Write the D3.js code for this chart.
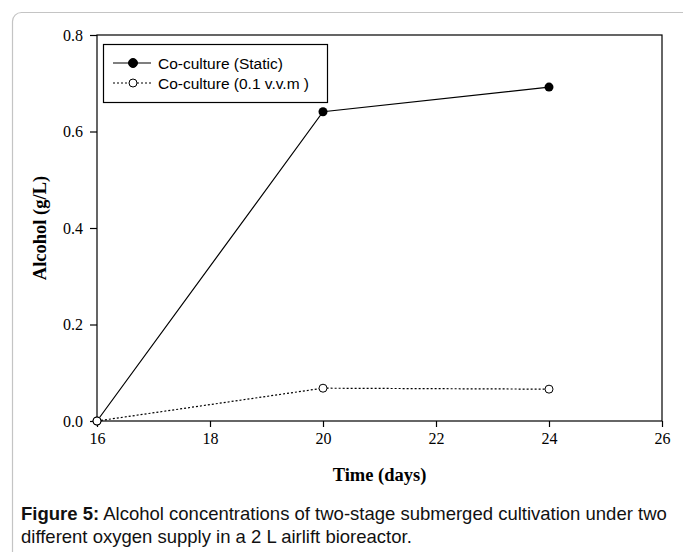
<!DOCTYPE html>
<html>
<head>
<meta charset="utf-8">
<script src="https://cdn.jsdelivr.net/npm/d3@7"></script>
<style>
  body { margin: 0; background: #fff; }
  svg { display: block; }
</style>
</head>
<body>
<div id="chart"></div>
<script>
// data
const days = [16, 20, 24];
const staticAlcohol = [0, 0.641, 0.692];
const aeratedAlcohol = [0, 0.068, 0.066];
const seriesNames = ["Co-culture (Static)", "Co-culture (0.1 v.v.m )"];
const xTicks = [16, 18, 20, 22, 24, 26];
const yTicks = [0, 0.2, 0.4, 0.6, 0.8];

const width = 683, height = 552;
const margin = { top: 35, right: 21, bottom: 131, left: 97 };
const serif = "'Liberation Serif', 'Times New Roman', serif";
const sans = "'Liberation Sans', Arial, sans-serif";

const svg = d3.select("#chart").append("svg")
    .attr("width", width)
    .attr("height", height);

// figure frame
svg.append("rect")
    .attr("x", 12.5).attr("y", 12.5)
    .attr("width", 720).attr("height", 620)
    .attr("rx", 9)
    .attr("fill", "none")
    .attr("stroke", "#c4c4c4")
    .attr("stroke-width", 1.2);

const x = d3.scaleLinear().domain([16, 26]).range([margin.left, width - margin.right]);
const y = d3.scaleLinear().domain([0, 0.8]).range([height - margin.bottom, margin.top]);

// plot box
svg.append("rect")
    .attr("x", x(16)).attr("y", y(0.8))
    .attr("width", x(26) - x(16)).attr("height", y(0) - y(0.8))
    .attr("fill", "none").attr("stroke", "#000").attr("stroke-width", 1.2);

const xAxis = svg.append("g")
    .attr("transform", `translate(0,${y(0)})`)
    .call(d3.axisBottom(x).tickValues(xTicks).tickSize(6).tickPadding(6).tickFormat(d3.format("d")));
const yAxis = svg.append("g")
    .attr("transform", `translate(${x(16)},0)`)
    .call(d3.axisLeft(y).tickValues(yTicks).tickSize(7).tickPadding(7).tickFormat(d3.format(".1f")));

[xAxis, yAxis].forEach(a => {
  a.select(".domain").remove();
  a.selectAll("line").attr("stroke", "#000").attr("stroke-width", 1.2);
  a.selectAll("text")
    .attr("font-family", serif)
    .attr("font-size", 16).attr("fill", "#000");
});

// axis titles
svg.append("text")
    .attr("x", (x(16) + x(26)) / 2).attr("y", 481)
    .attr("text-anchor", "middle")
    .attr("font-family", serif)
    .attr("font-weight", "bold").attr("font-size", 18.5)
    .text("Time (days)");
svg.append("text")
    .attr("transform", `translate(46,${(y(0) + y(0.8)) / 2}) rotate(-90)`)
    .attr("text-anchor", "middle")
    .attr("font-family", serif)
    .attr("font-weight", "bold").attr("font-size", 18.5)
    .text("Alcohol (g/L)");

const line = d3.line().x((d, i) => x(days[i])).y(d => y(d));

// static series
svg.append("path").datum(staticAlcohol)
    .attr("d", line).attr("fill", "none")
    .attr("stroke", "#000").attr("stroke-width", 1.2);
// aerated series
svg.append("path").datum(aeratedAlcohol)
    .attr("d", line).attr("fill", "none")
    .attr("stroke", "#000").attr("stroke-width", 1.2)
    .attr("stroke-dasharray", "2,2");

svg.append("g").selectAll("circle").data(staticAlcohol).join("circle")
    .attr("cx", (d, i) => x(days[i])).attr("cy", d => y(d))
    .attr("r", 4.5).attr("fill", "#000");
svg.append("g").selectAll("circle").data(aeratedAlcohol).join("circle")
    .attr("cx", (d, i) => x(days[i])).attr("cy", d => y(d))
    .attr("r", 4).attr("fill", "#fff").attr("stroke", "#000").attr("stroke-width", 1);

// legend
const legend = svg.append("g");
legend.append("rect")
    .attr("x", 103.5).attr("y", 44.5).attr("width", 224).attr("height", 58)
    .attr("fill", "#fff").attr("stroke", "#000").attr("stroke-width", 1.2);
seriesNames.forEach((name, i) => {
  const ly = 63 + i * 20;
  legend.append("line")
      .attr("x1", 113).attr("x2", 151).attr("y1", ly).attr("y2", ly)
      .attr("stroke", "#000").attr("stroke-width", 1.2)
      .attr("stroke-dasharray", i ? "2,2" : null);
  legend.append("circle")
      .attr("cx", 133).attr("cy", ly).attr("r", i ? 4 : 4.5)
      .attr("fill", i ? "#fff" : "#000").attr("stroke", "#000").attr("stroke-width", 1);
  legend.append("text")
      .attr("x", 158).attr("y", ly + 5.5)
      .attr("font-family", sans)
      .attr("font-size", 15.5)
      .text(name);
});

// caption
const caption = svg.append("text")
    .attr("font-family", sans)
    .attr("font-size", 18.5).attr("fill", "#111");
const l1 = caption.append("tspan").attr("x", 21).attr("y", 520);
l1.append("tspan").attr("font-weight", "bold").text("Figure 5:");
l1.append("tspan").text(" Alcohol concentrations of two-stage submerged cultivation under two");
caption.append("tspan").attr("x", 21).attr("y", 543)
    .text("different oxygen supply in a 2 L airlift bioreactor.");
</script>
</body>
</html>
